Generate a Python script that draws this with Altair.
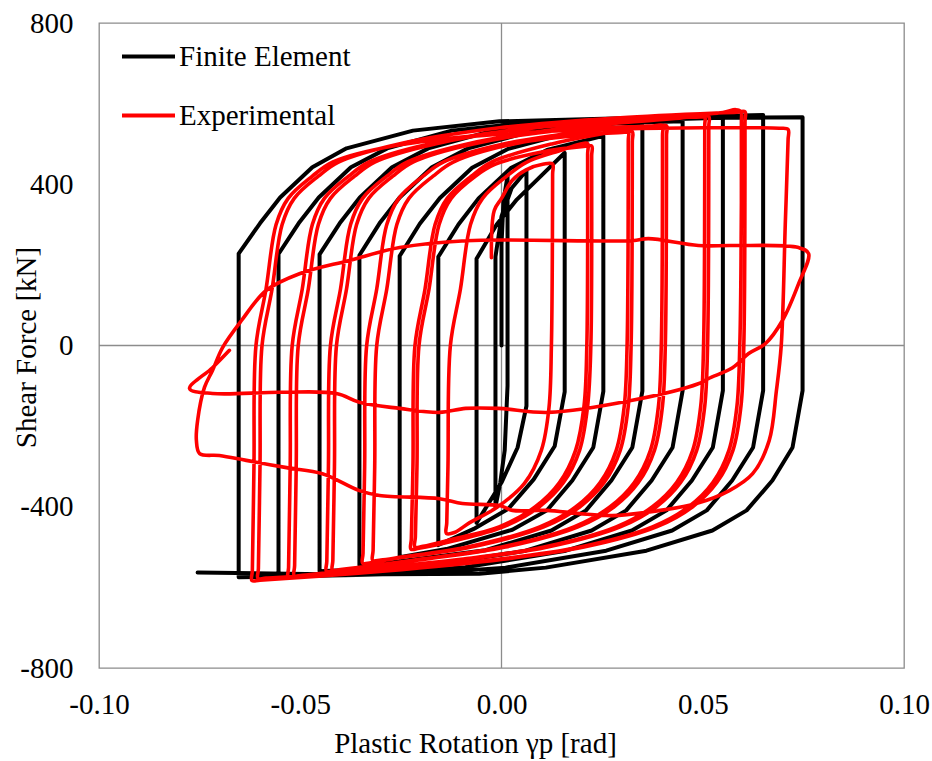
import altair as alt
import pandas as pd

# ---------------- data ----------------
series_names = ["Finite Element", "Experimental"]
series_colors = ["#000000", "#ff0000"]
x_ticks = [-0.10, -0.05, 0.0, 0.05, 0.10]
y_ticks = [-800, -400, 0, 400, 800]

# Finite element hysteresis path: (plastic rotation [rad], shear force [kN])
fe_points = [
    (0.0, 0), (0.0, 250), (0.0005, 360), (0.0015, 420),
    (0.0015, -100), (0.0008, -260), (-0.0003, -340), (-0.0015, -400),
    (-0.0015, 220), (0.0, 320), (0.0025, 390), (0.0062, 434),
    (0.0062, -150), (0.004, -253), (0.0, -340), (-0.0062, -440),
    (-0.0062, 215), (-0.0012, 300), (0.0038, 362), (0.0118, 440), (0.0157, 478),
    (0.0157, -115), (0.0132, -250), (0.008, -332), (0.0017, -405), (-0.0069, -455), (-0.0157, -495),
    (-0.0157, 220), (-0.0107, 300), (-0.0057, 365), (0.0023, 440), (0.0113, 485), (0.0253, 520),
    (0.0253, -114), (0.0228, -253), (0.0176, -335), (0.0113, -409), (0.0027, -457), (-0.0137, -505), (-0.0253, -525),
    (-0.0253, 222), (-0.0203, 302), (-0.0153, 366), (-0.0073, 441), (0.0017, 488), (0.0177, 530), (0.035, 545),
    (0.035, -113), (0.0325, -253), (0.0273, -335), (0.021, -409), (0.0124, -459), (-0.004, -508), (-0.029, -540), (-0.0353, -545),
    (-0.0353, 224), (-0.0303, 303), (-0.0253, 367), (-0.0173, 442), (-0.0083, 489), (0.0077, 532), (0.0297, 552), (0.045, 556),
    (0.045, -112), (0.0425, -253), (0.0373, -335), (0.031, -409), (0.0224, -459), (0.006, -509), (-0.019, -548), (-0.0452, -560),
    (-0.0452, 226), (-0.0402, 303), (-0.0352, 367), (-0.0272, 442), (-0.0182, 489), (-0.0022, 533), (0.0198, 555), (0.055, 565),
    (0.055, -112), (0.0525, -253), (0.0473, -335), (0.041, -409), (0.0324, -459), (0.016, -509), (-0.009, -550), (-0.03, -565), (-0.0554, -570),
    (-0.0554, 227), (-0.0504, 303), (-0.0454, 367), (-0.0374, 442), (-0.0284, 489), (-0.0124, 533), (0.0096, 556), (0.04, 566), (0.065, 572),
    (0.065, -112), (0.0625, -253), (0.0573, -335), (0.051, -409), (0.0424, -459), (0.026, -509), (0.001, -551), (-0.02, -566), (-0.0653, -575),
    (-0.0653, 228), (-0.060, 303), (-0.055, 367), (-0.047, 442), (-0.0385, 489), (-0.022, 533), (-0.0005, 556), (0.03, 564), (0.0748, 566),
    (0.0748, -112), (0.0723, -253), (0.0673, -335), (0.0609, -409), (0.0524, -459), (0.036, -509), (0.011, -551), (-0.0055, -566), (-0.04, -568), (-0.0755, -563),
]

# Experimental hysteresis path: (plastic rotation [rad], shear force [kN])
ex_points = [
    (-0.0025, 218), (-0.0018, 335), (0.0, 365), (0.0027, 410), (0.006, 435), (0.0105, 450), (0.0127, 450),
    (0.0127, 425), (0.0124, 0), (0.0118, -154), (0.0099, -260), (0.0057, -342), (-0.0012, -402), (-0.008, -440), (-0.0117, -464), (-0.0137, -466),
    (-0.0136, -440), (-0.0133, -300), (-0.0127, 0), (-0.0102, 140), (-0.0077, 300), (-0.0047, 365), (0.0013, 420), (0.0063, 455), (0.015, 485), (0.0194, 499), (0.0214, 501),
    (0.0214, 475), (0.0212, 0), (0.0205, -150), (0.0184, -260), (0.0144, -340), (0.0084, -400), (-0.0006, -450), (-0.012, -480), (-0.0195, -498), (-0.0215, -500),
    (-0.0214, -475), (-0.021, -300), (-0.0205, 0), (-0.018, 140), (-0.0155, 300), (-0.0125, 365), (-0.0065, 420), (-0.0015, 450), (0.01, 480), (0.0204, 494), (0.0224, 495),
    (0.0224, 470), (0.0222, 0), (0.0214, -150), (0.0194, -260), (0.0154, -340), (0.0094, -400), (0.0004, -450), (-0.012, -485), (-0.0205, -503), (-0.0225, -505),
    (-0.0224, -480), (-0.022, -300), (-0.0215, 0), (-0.019, 140), (-0.0165, 300), (-0.0135, 365), (-0.0075, 420), (-0.0025, 455), (0.0125, 500), (0.0295, 532), (0.0315, 533),
    (0.0315, 508), (0.0312, 0), (0.0305, -150), (0.0285, -260), (0.0245, -340), (0.0185, -400), (0.0095, -450), (-0.0085, -500), (-0.025, -525), (-0.030, -532), (-0.032, -533),
    (-0.0319, -508), (-0.0315, -300), (-0.031, 0), (-0.0285, 140), (-0.026, 300), (-0.023, 365), (-0.017, 420), (-0.012, 455), (0.003, 500), (0.02, 522), (0.0305, 529), (0.0325, 530),
    (0.0325, 505), (0.0322, 0), (0.0315, -150), (0.0295, -260), (0.0255, -340), (0.0195, -400), (0.0105, -450), (-0.0075, -500), (-0.0275, -530), (-0.0325, -539), (-0.0345, -540),
    (-0.0344, -515), (-0.034, -300), (-0.0335, 0), (-0.031, 140), (-0.0285, 300), (-0.0255, 365), (-0.0195, 420), (-0.0145, 455), (0.0005, 500), (0.0255, 536), (0.038, 545), (0.040, 546),
    (0.040, 521), (0.0397, 0), (0.039, -150), (0.037, -260), (0.033, -340), (0.027, -400), (0.018, -450), (0.0, -500), (-0.02, -530), (-0.040, -556), (-0.042, -558),
    (-0.0419, -533), (-0.0415, -300), (-0.041, 0), (-0.0385, 140), (-0.036, 300), (-0.033, 365), (-0.027, 420), (-0.022, 455), (-0.007, 500), (0.018, 537), (0.039, 544), (0.041, 545),
    (0.041, 520), (0.0407, 0), (0.04, -150), (0.038, -260), (0.034, -340), (0.028, -400), (0.019, -450), (0.001, -500), (-0.019, -530), (-0.0415, -558), (-0.0435, -560),
    (-0.0434, -535), (-0.043, -300), (-0.0425, 0), (-0.04, 140), (-0.0375, 300), (-0.0345, 365), (-0.0285, 420), (-0.0235, 455), (-0.0085, 500), (0.0165, 540), (0.0465, 566), (0.049, 570), (0.0505, 571),
    (0.0505, 546), (0.0502, 0), (0.0495, -150), (0.0475, -260), (0.0435, -340), (0.0375, -400), (0.0285, -450), (0.0105, -500), (-0.0095, -530), (-0.0395, -560), (-0.0495, -570), (-0.0515, -571),
    (-0.0514, -546), (-0.051, -300), (-0.0505, 0), (-0.048, 140), (-0.0455, 300), (-0.0425, 365), (-0.0365, 420), (-0.0315, 455), (-0.0165, 500), (0.0085, 540), (0.0385, 563), (0.0495, 567), (0.0515, 568),
    (0.0515, 543), (0.0512, 0), (0.0505, -150), (0.0485, -260), (0.0445, -340), (0.0385, -400), (0.0295, -450), (0.0115, -500), (-0.0085, -530), (-0.0385, -560), (-0.051, -574), (-0.053, -575),
    (-0.0529, -550), (-0.0525, -300), (-0.052, 0), (-0.0495, 140), (-0.047, 300), (-0.044, 365), (-0.038, 420), (-0.033, 455), (-0.018, 500), (0.007, 540), (0.037, 565), (0.055, 578), (0.0582, 585), (0.0595, 580),
    (0.0596, 555), (0.0595, 200), (0.0592, 0), (0.0585, -150), (0.0565, -260), (0.0525, -340), (0.0465, -400), (0.0375, -450), (0.0195, -500), (-0.0005, -530), (-0.0305, -560), (-0.0585, -577), (-0.0605, -578),
    (-0.0604, -553), (-0.06, -300), (-0.0595, 0), (-0.057, 140), (-0.0545, 300), (-0.0515, 365), (-0.0455, 420), (-0.0405, 455), (-0.0255, 500), (-0.0005, 540), (0.0295, 565), (0.0585, 579), (0.0605, 580),
    (0.0605, 555), (0.0602, 0), (0.0595, -150), (0.0575, -260), (0.0535, -340), (0.0475, -400), (0.0385, -450), (0.0205, -500), (0.0005, -530), (-0.0295, -560), (-0.060, -582), (-0.062, -583),
    (-0.0619, -558), (-0.0615, -300), (-0.061, 0), (-0.0585, 140), (-0.056, 300), (-0.053, 365), (-0.047, 420), (-0.042, 455), (-0.027, 495), (0.0, 525), (0.03, 537), (0.05, 540), (0.069, 539), (0.0712, 536),
    (0.0712, 510), (0.0705, 300), (0.0695, 0), (0.0683, -112), (0.0665, -236), (0.0624, -318), (0.0566, -360), (0.0484, -392), (0.036, -414), (0.0276, -422),
    (0.0194, -417), (0.0112, -409), (0.0027, -409), (-0.0005, -397), (-0.0097, -392), (-0.0154, -380), (-0.0303, -372), (-0.0353, -360),
    (-0.0445, -318), (-0.0534, -303), (-0.0634, -285), (-0.0701, -273), (-0.075, -268),
    (-0.0758, -236), (-0.0755, -186), (-0.0738, -104), (-0.0718, -62), (-0.0693, -5), (-0.0646, 62), (-0.0584, 137), (-0.0502, 178),
    (-0.0378, 211), (-0.0253, 243), (-0.0089, 260), (0.0325, 260), (0.0365, 265), (0.0489, 248), (0.0574, 248), (0.0738, 243), (0.0763, 228),
    (0.0738, 153), (0.0698, 62), (0.0656, 5), (0.0614, -20), (0.0574, -55), (0.0514, -82), (0.0489, -95), (0.0325, -136), (0.0117, -166),
    (-0.0007, -156), (-0.0089, -156), (-0.0154, -166), (-0.0253, -156), (-0.0353, -141), (-0.041, -119), (-0.0552, -116), (-0.0718, -119), (-0.0775, -107),
    (-0.0718, -55), (-0.0676, -12),
]

# ---------------- tables ----------------
def to_frame(points, name):
    df = pd.DataFrame(points, columns=["rot", "force"])
    df["i"] = range(len(df))
    df["series"] = name
    return df

df_fe = to_frame(fe_points, series_names[0])
df_ex = to_frame(ex_points, series_names[1])
df_zero_x = pd.DataFrame({"rot": [0.0]})
df_zero_y = pd.DataFrame({"force": [0.0]})

FONT = "Liberation Serif"
FS = 29
GRAY = "#8c8c8c"

x_enc = alt.X(
    "rot:Q",
    scale=alt.Scale(domain=[-0.1, 0.1], nice=False, zero=False),
    axis=alt.Axis(
        values=x_ticks,
        labelExpr="datum.value < 0 ? '-' + format(-datum.value, '.2f') : format(datum.value, '.2f')",
        title="Plastic Rotation γp [rad]",
        labelPadding=22,
        labelFlush=False,
        labelOverlap=False,
        titleX=376,
        titleY=84,
        titleAlign="center",
        titleBaseline="alphabetic",
    ),
)
y_enc = alt.Y(
    "force:Q",
    scale=alt.Scale(domain=[-800, 800], nice=False, zero=False),
    axis=alt.Axis(
        values=y_ticks,
        labelExpr="datum.value < 0 ? '-' + format(-datum.value, 'd') : format(datum.value, 'd')",
        title="Shear Force [kN]",
        labelPadding=26,
        labelFlush=False,
        labelOverlap=False,
        titleX=-64,
        titleY=324,
        titleBaseline="alphabetic",
    ),
)
color_enc = alt.Color(
    "series:N",
    scale=alt.Scale(domain=series_names, range=series_colors),
    legend=alt.Legend(
        orient="none",
        legendX=21,
        legendY=5,
        title=None,
        symbolType="stroke",
        symbolSize=2809,
        symbolStrokeWidth=4,
        labelFont=FONT,
        labelFontSize=FS,
        labelColor="black",
        labelOffset=2,
        labelLimit=400,
        rowPadding=15,
        padding=0,
    ),
)

zero_v = alt.Chart(df_zero_x).mark_rule(color=GRAY, strokeWidth=1.3).encode(x=x_enc)
zero_h = alt.Chart(df_zero_y).mark_rule(color=GRAY, strokeWidth=1.3).encode(y=y_enc)

fe_line = alt.Chart(df_fe).mark_line(strokeWidth=4, strokeJoin="round", strokeCap="round").encode(
    x=x_enc, y=y_enc, color=color_enc, order="i:Q"
)
ex_line = alt.Chart(df_ex).mark_line(
    strokeWidth=3.6, strokeJoin="round", strokeCap="round", interpolate="catmull-rom"
).encode(x=x_enc, y=y_enc, color=color_enc, order="i:Q")

chart = (
    alt.layer(zero_v, zero_h, fe_line, ex_line)
    .properties(
        width=805,
        height=645,
        autosize=alt.AutoSizeParams(type="none"),
        padding={"left": 99, "top": 23, "right": 28, "bottom": 93},
        background="white",
    )
    .configure_view(stroke=GRAY, strokeWidth=1.3)
    .configure_axis(
        grid=False,
        domain=False,
        ticks=False,
        labelFont=FONT,
        labelFontSize=FS,
        labelColor="black",
        titleFont=FONT,
        titleFontSize=FS,
        titleFontWeight="normal",
        titleColor="black",
    )
)

chart.save("out.html", embed_options={"renderer": "svg", "actions": False})
